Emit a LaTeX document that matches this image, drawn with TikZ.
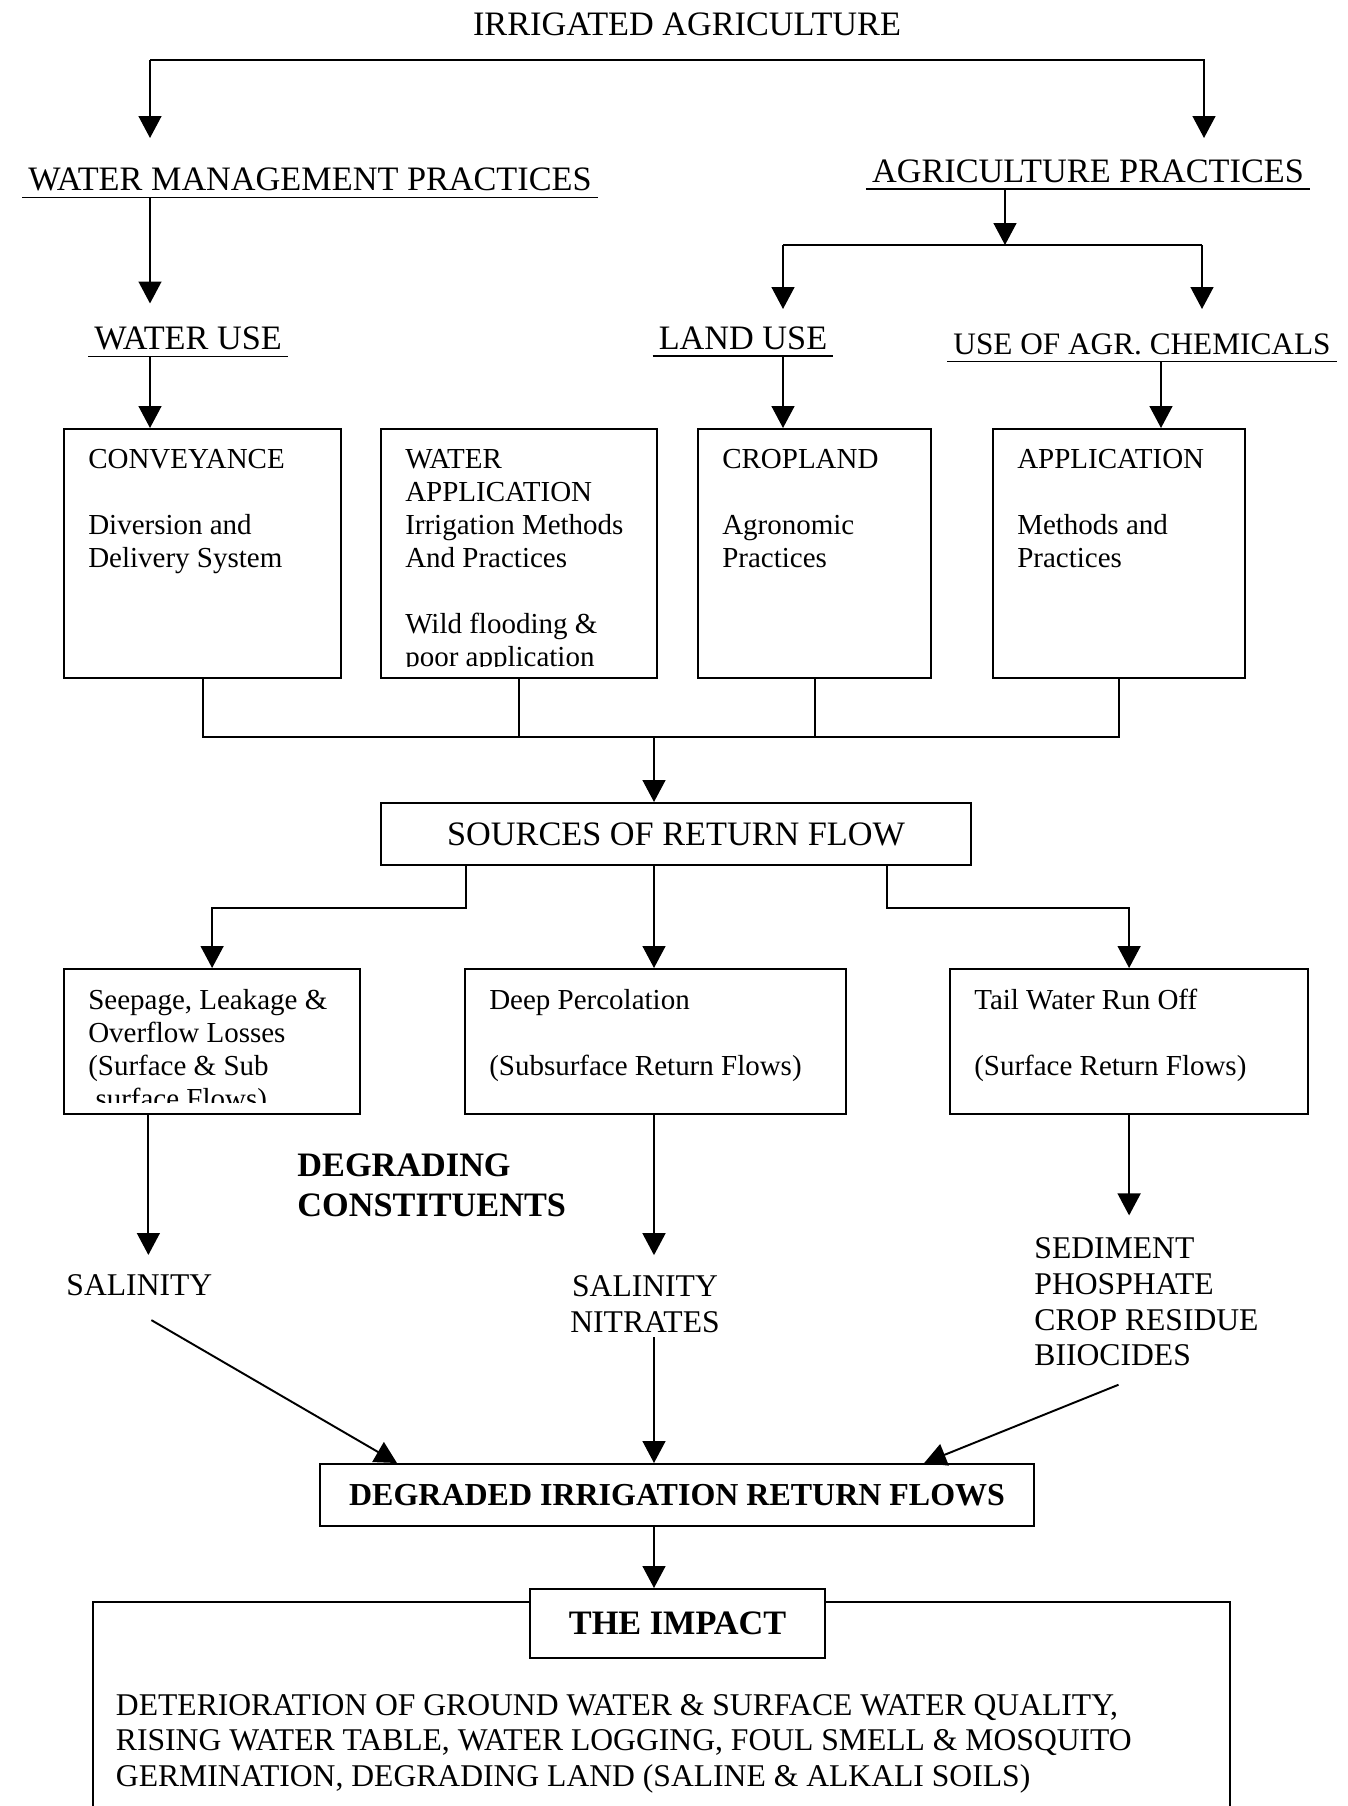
\documentclass[tikz,border=0pt]{standalone}
\usepackage{fontspec}
\setmainfont{Liberation Serif}
\usetikzlibrary{positioning, arrows.meta}
\newcommand{\headsize}{\fontsize{19.5}{23}\selectfont}
\newcommand{\boxsize}{\fontsize{16.5}{18.8}\selectfont}
\newcommand{\listsize}{\fontsize{18}{20.4}\selectfont}

\begin{document}
\begin{tikzpicture}[
        x = 0.02cm, y = -0.02cm,
        line width = 1.1pt,
        arrow/.style = {-{Triangle[width = 13pt, length = 12.5pt]}},
        heading/.style = {font = \headsize, anchor = base, inner xsep = 3pt, inner ysep = 3.4pt,
            append after command = {(\tikzlastnode.south west) edge[line width = 1pt] (\tikzlastnode.south east)}},
        panel/.style = {draw, anchor = north west, inner sep = 0pt, line width = 1.3pt},
        panel text/.style = {path picture = {
            \clip (path picture bounding box.north west) rectangle ([yshift = 0.24cm]path picture bounding box.south east);
            \node[anchor = north west, inner sep = 0pt, minimum width = 0pt, minimum height = 0pt,
                  align = left, font = \boxsize]
              at ([shift = {(0.46cm, -0.38cm)}]path picture bounding box.north west) {#1};}},
        plain/.style = {font = \listsize, inner sep = 2pt, align = left},
        bold/.style = {font = \fontsize{19.5}{22.7}\selectfont\bfseries, inner sep = 2pt, align = left}
      ]
      \useasboundingbox (0, 0) rectangle (1348, 1806);

      % practices
      \node[font = \headsize, anchor = base] (irrigated) at (687, 35) {IRRIGATED AGRICULTURE};
      \node[heading] (watermgmt) at (310, 190) {WATER MANAGEMENT PRACTICES};
      \node[heading] (agripract) at (1088, 182) {AGRICULTURE PRACTICES};
      \node[heading] (wateruse) at (188, 349) {WATER USE};
      \node[heading] (landuse) at (743, 349) {LAND USE};
      \node[heading, font = \fontsize{17.8}{21}\selectfont] (chemicals) at (1142, 354) {USE OF AGR. CHEMICALS};

      \coordinate (split) at (150, 60);
      \coordinate (splitend) at (1204, 60);
      \coordinate (forkmid) at (1005, 245);
      \coordinate (landsplit) at (783, 245);
      \coordinate (chemsplit) at (1202, 245);
      \coordinate (chemdrop) at (1161, 0);
      \coordinate (gather) at (654, 737);

      \draw[arrow] (split) -- ++(0, 78);
      \draw[arrow] (split) -- (splitend) -- ++(0, 78);
      \draw[arrow] (watermgmt.south -| split) -- ++(0, 106);
      \draw[arrow] (agripract.south -| forkmid) -- (forkmid);
      \draw (landsplit) -- (chemsplit);
      \draw[arrow] (landsplit) -- ++(0, 64);
      \draw[arrow] (chemsplit) -- ++(0, 64);

      % activities
      \node[panel, minimum width = 5.54cm, minimum height = 4.98cm,
            panel text = {CONVEYANCE\\[18.8pt]Diversion and\\Delivery System}] (conveyance) at (63, 428) {};
      \node[panel, minimum width = 5.52cm, minimum height = 4.98cm,
            panel text = {WATER\\APPLICATION\\Irrigation Methods\\And Practices\\[18.8pt]Wild flooding \&\\poor application}] (waterapp) at (380, 428) {};
      \node[panel, minimum width = 4.66cm, minimum height = 4.98cm,
            panel text = {CROPLAND\\[18.8pt]Agronomic\\Practices}] (cropland) at (697, 428) {};
      \node[panel, minimum width = 5.04cm, minimum height = 4.98cm,
            panel text = {APPLICATION\\[18.8pt]Methods and\\Practices}] (application) at (992, 428) {};

      \draw[arrow] (wateruse.south -| split) -- (conveyance.north -| split);
      \draw[arrow] (landuse.south -| landsplit) -- (cropland.north -| landsplit);
      \draw[arrow] (chemicals.south -| chemdrop) -- (application.north -| chemdrop);

      \draw (conveyance.south) |- (gather) -| (application.south);
      \draw (waterapp.south) -- (waterapp.south |- gather);
      \draw (cropland.south) -- (cropland.south |- gather);

      % return flows
      \node[panel, minimum width = 11.8cm, minimum height = 1.24cm, font = \headsize] (sources) at (380, 802) {SOURCES OF RETURN FLOW};
      \draw[arrow] (gather) -- (gather |- sources.north);

      \node[panel, minimum width = 5.92cm, minimum height = 2.9cm,
            panel text = {Seepage, Leakage \&\\Overflow Losses\\(Surface \& Sub\\\ surface Flows)}] (seepage) at (63, 968) {};
      \node[panel, minimum width = 7.62cm, minimum height = 2.9cm,
            panel text = {Deep Percolation\\[18.8pt](Subsurface Return Flows)}] (deep) at (464, 968) {};
      \node[panel, minimum width = 7.16cm, minimum height = 2.9cm,
            panel text = {Tail Water Run Off\\[18.8pt](Surface Return Flows)}] (tailwater) at (949, 968) {};

      \draw[arrow] ([xshift = -4.2cm]sources.south) -- ++(0, 42) -| (seepage.north);
      \draw[arrow] (sources.south -| gather) -- (deep.north -| gather);
      \draw[arrow] ([xshift = 4.22cm]sources.south) -- ++(0, 42) -| (tailwater.north);

      % constituents
      \node[bold, anchor = north west] (constituents) at (293, 1149) {DEGRADING\\CONSTITUENTS};
      \node[plain, anchor = west] (salinity) at (62, 1285) {SALINITY};
      \node[plain, align = center] (nitrates) at (645, 1304) {SALINITY\\NITRATES};
      \node[plain, anchor = north west] (sediment) at (1030, 1233) {SEDIMENT\\PHOSPHATE\\CROP RESIDUE\\BIIOCIDES};

      \draw[arrow, shorten > = 8.5pt] ([xshift = 0.18cm]seepage.south -| salinity.north) -- ([xshift = 0.18cm]salinity.north);
      \draw[arrow, shorten > = 9pt] (deep.south -| gather) -- (nitrates.north -| gather);
      \draw[arrow, shorten > = 10pt] (tailwater.south) -- (tailwater.south |- sediment.north);

      \node[panel, minimum width = 14.28cm, minimum height = 1.24cm,
            font = \fontsize{18.2}{21}\selectfont\bfseries] (degraded) at (319, 1463) {DEGRADED IRRIGATION RETURN FLOWS};

      \draw[arrow] ([shift = {(0.24cm, -0.4cm)}]salinity.south) -- ([xshift = 1.56cm]degraded.north west);
      \draw[arrow] (nitrates.south -| gather) -- (degraded.north -| gather);
      \draw[arrow] ([shift = {(-0.56cm, -0.28cm)}]sediment.south) -- ([xshift = -2.22cm]degraded.north east);

      % impact
      \node[panel, minimum width = 22.74cm, minimum height = 6cm] (effects) at (92, 1601) {};
      \node[panel, fill = white, minimum width = 5.9cm, minimum height = 1.38cm,
            font = \headsize\bfseries] (impact) at (529, 1588) {THE IMPACT};
      \draw[arrow] (degraded.south -| gather) -- (impact.north -| gather);

      \node[plain, anchor = north west, inner sep = 0pt] (effectstext) at (115, 1693)
        {DETERIORATION OF GROUND WATER \& SURFACE WATER QUALITY,\\
         RISING WATER TABLE, WATER LOGGING, FOUL SMELL \& MOSQUITO\\
         GERMINATION, DEGRADING LAND (SALINE \& ALKALI SOILS)};
    \end{tikzpicture}
\end{document}
